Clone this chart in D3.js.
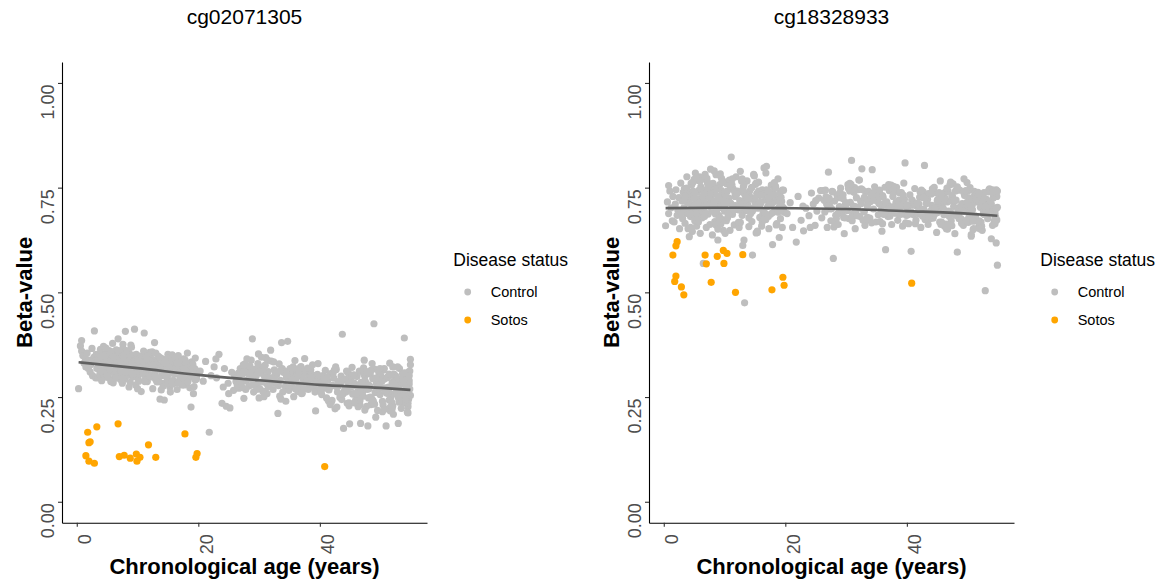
<!DOCTYPE html>
<html>
<head>
<meta charset="utf-8">
<script src="https://cdn.jsdelivr.net/npm/d3@7"></script>
<style>
  body { margin: 0; background: #fff; }
  text { font-family: "Liberation Sans", Arial, Helvetica, sans-serif; }
</style>
</head>
<body>
<svg id="chart" width="1168" height="588"></svg>
<script>
// Probe names, legend entries and axis ticks
const probeNames = ["cg02071305", "cg18328933"];
const statusLabels = ["Control", "Sotos"];
const statusColors = ["#BEBEBE", "#FFA500"];
const betaTicks = [0, 0.25, 0.5, 0.75, 1];
const ageTicks = [0, 20, 40];

// Control samples: age (years) and beta-values at the two CpG probes
const controlAge = [
  0.3,0.6,0.8,0.8,1.0,1.2,1.4,1.5,1.7,1.9,
  2.0,2.2,2.3,2.5,2.6,2.8,2.9,3.0,3.1,3.2,
  3.3,3.4,3.5,3.6,3.7,3.8,3.9,4.0,4.1,4.2,
  4.3,4.4,4.5,4.6,4.7,4.8,4.9,5.0,5.1,5.2,
  5.3,5.4,5.5,5.6,5.7,5.8,5.9,6.0,6.1,6.2,
  6.3,6.4,6.5,6.6,6.7,6.8,6.9,7.0,7.1,7.2,
  7.3,7.4,7.5,7.6,7.7,7.8,7.9,8.0,8.1,8.2,
  8.3,8.4,8.5,8.6,8.7,8.8,8.9,9.0,9.1,9.2,
  9.3,9.4,9.5,9.6,9.7,9.8,9.9,3.5,4.5,5.5,
  6.5,7.5,8.5,9.5,4.2,5.8,6.2,7.1,8.6,9.0,
  3.8,4.9,5.2,6.9,7.7,8.3,9.4,5.0,6.0,8.0,
  10.0,10.1,10.3,10.4,10.6,10.7,10.9,11.0,11.1,11.3,
  11.4,11.6,11.7,11.9,12.0,12.2,12.3,12.5,12.6,12.8,
  12.9,13.1,13.2,13.4,13.5,13.7,13.8,14.0,14.1,14.3,
  14.4,14.6,14.7,14.9,15.0,15.2,15.3,15.5,15.6,15.8,
  15.9,16.1,16.2,16.4,16.5,16.7,16.8,17.0,17.1,17.3,
  17.4,17.6,17.7,17.9,18.0,18.2,18.3,18.5,18.6,18.8,
  18.9,19.1,19.2,19.4,19.5,19.7,19.8,10.2,10.8,11.5,
  12.1,12.7,13.3,13.9,14.5,15.1,15.7,16.3,16.9,17.5,
  10.5,11.2,11.8,12.4,13.0,13.6,14.2,14.8,15.4,16.0,
  16.6,17.2,17.8,18.4,19.0,19.6,10.0,11.0,13.0,15.0,
  20.3,20.8,21.2,21.8,22.1,22.6,23.0,23.4,23.9,24.3,
  24.6,24.9,25.2,25.5,25.8,26.0,26.2,22.9,24.1,25.0,
  26.5,26.7,26.9,27.1,27.3,27.5,27.7,27.9,28.1,28.3,
  28.5,28.7,28.9,29.1,29.3,29.5,29.7,29.9,30.1,30.3,
  30.5,30.7,30.9,31.1,31.3,31.5,31.7,31.9,32.1,32.3,
  32.5,32.7,32.9,33.1,33.3,33.5,33.7,33.9,34.1,34.3,
  34.5,34.7,34.9,35.1,35.3,35.5,35.7,35.9,36.1,36.3,
  36.5,36.7,36.9,37.1,37.3,37.5,37.7,37.9,38.1,38.3,
  38.5,38.7,38.9,39.1,39.3,39.5,39.7,39.9,26.6,27.6,
  28.6,29.6,30.6,31.6,32.6,33.6,34.6,35.6,36.6,37.6,
  38.6,39.6,27.0,28.0,29.0,30.0,31.0,32.0,33.0,34.0,
  35.0,36.0,37.0,38.0,39.0,27.4,29.4,31.4,33.4,35.4,
  40.1,40.3,40.5,40.7,40.9,41.1,41.3,41.5,41.7,41.9,
  42.1,42.3,42.5,42.7,42.9,43.1,43.3,43.5,43.7,43.9,
  44.1,44.3,44.5,44.7,44.9,45.1,45.3,45.5,45.7,45.9,
  46.1,46.3,46.5,46.7,46.9,47.1,47.3,47.5,47.7,47.9,
  48.1,48.3,48.5,48.7,48.9,49.1,49.3,49.5,49.7,49.9,
  50.1,50.3,50.5,50.7,50.9,51.1,51.3,51.5,51.7,51.9,
  52.1,52.3,52.5,52.7,52.9,53.1,53.3,53.5,53.7,53.9,
  54.1,54.3,54.5,54.7,54.9,42.0,43.0,44.0,45.0,46.0,
  47.0,48.0,49.0,50.0,51.0,52.0,53.0,54.0,54.8,44.6,
  45.6,46.6,47.6,48.6,49.6,50.6,51.6,52.6,53.6,54.6,
  43.4,44.4,45.4,46.4,47.4,48.4,49.4,50.4,51.4,52.4,
  53.4,54.4,54.9,45.2,46.2,47.2,48.2,49.2,50.2,51.2,
  52.2,53.2,54.2,54.7,41.6,42.6,43.6,44.8,53.8,54.5,
  3.4,4.0,4.6,5.1,5.7,6.3,6.8,7.4,7.9,8.5,
  9.1,9.6,10.2,10.7,11.3,11.9,12.4,13.0,13.5,14.1,
  14.6,15.2,15.8,16.3,16.9,17.4,18.0,18.6,19.1,19.7,
  3.9,4.4,5.0,5.6,6.1,6.7,7.2,7.8,8.4,8.9,
  9.5,10.0,10.6,11.2,11.7,12.3,12.8,13.4,14.0,14.5,
  15.1,15.6,16.2,16.8,17.3,17.9,18.4,19.0,19.5,4.8,
  5.3,5.9,6.4,7.0,7.6,8.1,8.7,9.2,9.8,10.4,
  10.9,11.5,12.0,12.6,13.2,13.7,14.3,14.8,15.4,16.0,
  16.5,17.1,17.6,18.2,18.8,19.3,3.6,4.3,5.4,6.6,
  7.3,8.2,9.3,10.1,11.4,12.9,14.4,16.6,18.1,6.0,
  26.8,27.8,28.4,29.2,30.2,30.8,31.8,32.4,33.2,34.2,
  34.8,35.8,36.4,37.2,38.2,38.8,39.8,27.2,28.8,30.4,
  31.2,32.8,34.4,35.2,36.8,37.4,38.4,39.4,26.4,29.8,
  30.6,31.4,32.2,33.8,35.4,36.2,37.8,39.2,28.2,33.0,
  27.5,29.0,30.0,31.0,32.5,34.5,36.0,37.5,38.5,39.5,
  26.9,28.5,29.5,31.5,33.5,35.5,36.5,37.0,38.0,40.0,
  40.2,40.8,41.4,42.2,42.8,43.2,43.8,44.2,44.8,45.4,
  45.8,46.4,46.8,47.4,47.8,48.4,48.8,49.4,49.8,50.4,
  50.8,51.4,51.8,52.4,52.8,53.4,53.8,54.4,54.8,41.0,
  42.4,43.6,45.0,46.0,47.2,48.6,49.6,50.6,51.6,52.6,
  53.6,54.6,54.2,53.0,52.0,51.0,50.0,49.0,48.0,47.0,
  46.6,45.6,44.6,43.0,42.0,41.2,54.9,54.5,53.3,52.3,
  51.3,50.3,49.3,48.3,47.3,46.3,45.3,44.3,54.7,54.1,
  53.7,52.7,51.7,50.7,49.7,48.7,47.7,46.7,45.7,44.7,
  43.7,42.7,41.7,40.7,54.3,53.9,52.9,51.9,50.9,49.9
];

const controlBetaA = [
  .270,.372,.385,.360,.349,.331,.343,.322,.355,.318,
  .338,.310,.327,.366,.301,.345,.408,.335,.296,.352,
  .318,.341,.296,.352,.327,.305,.364,.333,.289,.347,
  .312,.371,.326,.298,.339,.355,.316,.302,.344,.329,
  .361,.308,.335,.287,.349,.322,.378,.313,.340,.296,
  .327,.356,.304,.343,.318,.389,.331,.299,.352,.336,
  .310,.345,.283,.366,.324,.337,.293,.407,.315,.348,
  .329,.302,.358,.321,.340,.285,.374,.312,.333,.350,
  .306,.344,.412,.318,.279,.352,.326,.338,.301,.321,
  .363,.291,.347,.330,.316,.356,.308,.342,.274,.369,
  .335,.309,.351,.325,.298,.343,.317,.330,.284,.357,
  .322,.294,.347,.308,.263,.336,.315,.351,.403,.301,
  .328,.287,.343,.312,.357,.298,.325,.270,.339,.380,
  .306,.332,.289,.348,.318,.245,.327,.301,.341,.283,
  .243,.319,.336,.295,.352,.309,.274,.328,.314,.345,
  .290,.337,.305,.322,.268,.349,.311,.296,.333,.317,
  .302,.341,.279,.326,.309,.355,.288,.320,.297,.226,
  .334,.306,.258,.318,.343,.294,.312,.288,.329,.316,
  .346,.298,.323,.267,.335,.304,.351,.285,.327,.310,
  .314,.339,.300,.358,.292,.321,.276,.331,.344,.306,
  .319,.287,.339,.303,.325,.293,.270,.360,.315,.281,
  .312,.288,.335,.166,.301,.322,.296,.352,.235,.318,
  .228,.283,.224,.309,.266,.300,.287,.341,.274,.258,
  .296,.271,.318,.284,.305,.247,.329,.289,.312,.276,
  .301,.338,.389,.262,.294,.317,.281,.353,.270,.307,
  .286,.322,.299,.344,.258,.311,.279,.362,.293,.268,
  .315,.283,.304,.211,.329,.290,.380,.262,.309,.275,
  .297,.383,.266,.318,.284,.305,.251,.337,.288,.313,
  .274,.300,.323,.259,.291,.342,.280,.306,.268,.297,
  .315,.283,.302,.271,.217,.294,.330,.276,.307,.320,
  .293,.268,.314,.287,.301,.245,.296,.322,.279,.311,
  .289,.304,.276,.341,.298,.318,.263,.336,.285,.309,
  .272,.295,.316,.284,.299,.327,.312,.290,.252,.303,
  .283,.256,.301,.271,.314,.248,.289,.267,.305,.239,
  .278,.295,.222,.316,.262,.284,.249,.300,.400,.175,
  .268,.291,.235,.307,.186,.274,.321,.258,.283,.243,
  .299,.266,.312,.187,.276,.252,.338,.287,.228,.181,
  .270,.305,.247,.294,.425,.261,.283,.218,.309,.256,
  .289,.240,.316,.272,.181,.297,.263,.331,.251,.285,
  .209,.274,.300,.262,.187,.318,.245,.281,.236,.391,
  .268,.303,.227,.289,.254,.307,.276,.262,.294,.236,
  .281,.248,.317,.273,.296,.229,.285,.259,.312,.266,
  .302,.241,.279,.330,.264,.293,.217,.271,.306,.245,
  .286,.312,.257,.275,.299,.232,.268,.314,.243,.290,
  .223,.278,.340,.297,.250,.320,.276,.202,.288,.260,
  .305,.266,.247,.281,.273,.322,.288,.229,.298,.212,
  .334,.312,.351,.297,.340,.323,.361,.306,.344,.318,
  .329,.301,.347,.316,.292,.338,.310,.355,.287,.324,
  .303,.342,.281,.319,.336,.296,.313,.272,.328,.300,
  .348,.326,.303,.359,.315,.337,.292,.350,.321,.309,
  .343,.306,.332,.287,.349,.316,.328,.296,.311,.337,
  .322,.288,.345,.307,.279,.334,.300,.318,.291,.367,
  .320,.346,.295,.333,.376,.310,.352,.298,.339,.319,
  .306,.341,.299,.327,.286,.344,.310,.323,.262,.308,
  .331,.298,.316,.286,.309,.275,.327,.349,.315,.340,
  .329,.361,.304,.337,.318,.299,.332,.284,.306,.346,
  .303,.268,.321,.285,.309,.251,.296,.334,.277,.312,
  .292,.318,.263,.305,.281,.327,.294,.273,.316,.345,
  .283,.307,.240,.299,.321,.270,.311,.286,.279,.330,
  .264,.338,.295,.318,.274,.300,.289,.262,.306,.283,
  .311,.279,.248,.326,.293,.305,.269,.314,.297,.281,
  .288,.324,.300,.275,.313,.292,.308,.258,.319,.271,
  .262,.295,.241,.308,.226,.281,.257,.292,.236,.276,
  .301,.248,.285,.219,.268,.314,.240,.279,.296,.231,
  .264,.305,.238,.277,.322,.251,.293,.214,.269,.287,
  .315,.244,.282,.258,.305,.239,.274,.318,.226,.297,
  .253,.310,.282,.238,.322,.259,.302,.233,.279,.261,
  .231,.303,.268,.287,.242,.298,.327,.235,.293,.258,
  .274,.215,.296,.250,.309,.227,.284,.262,.301,.244,
  .289,.263,.302,.221,.276,.243,.311,.268,.236,.284,
  .257,.275,.232,.294,.271,.308,.249,.222,.267,.318
];

const controlBetaB = [
  .659,.716,.755,.688,.742,.702,.671,.729,.668,.711,
  .745,.684,.697,.726,.652,.761,.690,.718,.676,.739,
  .702,.748,.665,.731,.689,.776,.714,.652,.738,.697,
  .723,.681,.760,.709,.645,.742,.694,.728,.671,.785,
  .716,.658,.739,.699,.767,.685,.724,.641,.752,.707,
  .678,.745,.569,.719,.693,.771,.732,.655,.708,.761,
  .687,.741,.712,.662,.794,.726,.699,.637,.753,.718,
  .735,.669,.704,.781,.691,.748,.625,.722,.683,.757,
  .711,.676,.743,.702,.766,.648,.729,.694,.737,.672,
  .721,.756,.687,.714,.633,.744,.698,.772,.661,.730,
  .749,.706,.682,.737,.715,.790,.664,.726,.701,.743,
  .704,.738,.671,.759,.692,.725,.648,.713,.823,.686,
  .747,.661,.729,.776,.698,.740,.667,.719,.789,.706,
  .684,.752,.625,.731,.695,.766,.710,.657,.741,.688,
  .723,.589,.699,.778,.715,.642,.736,.701,.763,.679,
  .711,.658,.745,.693,.797,.720,.674,.739,.705,.652,
  .730,.687,.756,.614,.716,.749,.697,.661,.724,.771,
  .702,.738,.676,.717,.655,.744,.691,.729,.768,.707,
  .742,.696,.475,.733,.669,.758,.714,.686,.801,.722,
  .678,.753,.707,.664,.739,.697,.728,.782,.646,.715,
  .736,.681,.712,.750,.631,.703,.694,.747,.612,.725,
  .688,.714,.655,.620,.729,.672,.647,.701,.683,.737,
  .711,.660,.694,.725,.743,.678,.743,.706,.655,.719,
  .692,.728,.655,.787,.706,.671,.741,.581,.718,.684,
  .733,.662,.705,.749,.689,.724,.640,.711,.698,.757,
  .676,.715,.815,.687,.739,.652,.726,.701,.768,.681,
  .712,.745,.693,.660,.722,.706,.741,.677,.730,.793,
  .699,.752,.668,.719,.685,.735,.710,.646,.727,.694,
  .602,.716,.681,.743,.697,.662,.729,.705,.689,.751,
  .672,.720,.695,.738,.658,.711,.809,.684,.744,.700,
  .726,.679,.760,.691,.795,.714,.738,.669,.703,.747,
  .688,.722,.699,.656,.734,.710,.681,.745,.693,.717,
  .731,.664,.707,.740,.686,.719,.697,.750,.673,.712,
  .701,.664,.733,.598,.719,.685,.748,.672,.710,.693,
  .727,.655,.698,.740,.803,.681,.716,.662,.735,.694,
  .708,.677,.751,.689,.643,.722,.700,.766,.668,.713,
  .685,.739,.652,.718,.694,.757,.671,.729,.705,.640,
  .720,.596,.688,.744,.676,.712,.660,.731,.699,.762,
  .667,.725,.693,.708,.650,.741,.682,.716,.739,.671,
  .703,.658,.730,.687,.504,.722,.676,.745,.694,.711,
  .660,.727,.689,.745,.565,.711,.674,.735,.690,.719,
  .681,.742,.665,.706,.728,.652,.714,.697,.673,.738,
  .694,.716,.759,.678,.705,.634,.723,.687,.747,.701,
  .722,.683,.708,.663,.731,.695,.771,.676,.717,.648,
  .689,.732,.703,.715,.658,.691,.746,.710,.679,.724,
  .668,.701,.725,.618,.706,.682,.736,.699,.742,.680,
  .721,.688,.757,.739,.668,.703,.782,.727,.694,.749,
  .676,.762,.716,.690,.771,.733,.655,.745,.708,.726,
  .694,.761,.731,.683,.745,.712,.738,.664,.722,.701,
  .734,.655,.770,.712,.746,.681,.763,.705,.738,.651,
  .772,.710,.687,.758,.739,.697,.766,.720,.678,.751,
  .703,.742,.668,.785,.727,.690,.753,.715,.744,.763,
  .690,.776,.728,.707,.736,.760,.695,.780,.718,.741,
  .755,.697,.735,.667,.757,.726,.701,.780,.643,.732,
  .675,.743,.708,.762,.691,.727,.730,.688,.775,.736,
  .754,.716,.783,.641,.705,.771,.749,.690,.733,.766,
  .711,.740,.676,.726,.695,.758,.683,.718,.740,.666,
  .729,.697,.751,.682,.714,.738,.666,.725,.691,.748,
  .706,.672,.736,.719,.684,.756,.700,.732,.720,.678,
  .742,.701,.768,.715,.732,.686,.753,.707,.662,.727,
  .699,.738,.714,.671,.747,.720,.731,.693,.705,.761,
  .724,.686,.733,.705,.679,.744,.715,.757,.690,.709,
  .685,.721,.664,.739,.698,.712,.676,.747,.703,.668,
  .726,.694,.741,.659,.718,.683,.705,.737,.672,.750,
  .697,.733,.655,.714,.686,.740,.702,.671,.729,.708,
  .744,.688,.719,.700,.763,.676,.710,.638,.735,.692,
  .715,.680,.736,.699,.727,.652,.741,.706,.684,.718,
  .749,.662,.701,.728,.687,.712,.742,.664,.708,.731,
  .676,.717,.694,.752,.660,.725,.738,.685,.700,.745,
  .712,.738,.669,.707,.743,.693,.721,.651,.730,.699,
  .681,.726,.713,.692,.740,.628,.705,.735,.670,.715
];

// Sotos patients: age (years) and beta-values at the two probes
const sotosAge = [1.5,1.8,2.0,2.0,2.2,2.9,3.3,6.8,7.0,7.8,8.8,9.8,9.9,10.4,11.8,13.0,17.8,19.6,19.8,40.8];
const sotosBetaA = [.110,.166,.141,.097,.143,.092,.179,.186,.108,.111,.104,.114,.097,.106,.136,.106,.162,.106,.115,.084];
const sotosBetaB = [.589,.526,.611,.539,.621,.513,.494,.589,.568,.524,.586,.600,.569,.593,.500,.590,.506,.536,.517,.522];

// Smoothed trend of the control group
const fitAge = [0.3, 10, 20, 30, 40, 50, 54.9];
const fitBetaA = [0.333, 0.319, 0.303, 0.290, 0.279, 0.272, 0.267];
const fitBetaB = [0.701, 0.702, 0.701, 0.699, 0.694, 0.688, 0.683];

const svg = d3.select("#chart");
svg.append("rect").attr("width", 1168).attr("height", 588).attr("fill", "#fff");

const plot = { left: 62, right: 427, top: 62, bottom: 522.7 };
const panelStep = 587;

const allAges = controlAge.concat(sotosAge);
const [ageMin, ageMax] = d3.extent(allAges);
const agePad = (ageMax - ageMin) * 0.05;

function drawPanel(i, ctrlBeta, sotosBeta, fitBeta) {
  const g = svg.append("g").attr("transform", `translate(${i * panelStep},0)`);

  const x = d3.scaleLinear()
    .domain([ageMin - agePad, ageMax + agePad])
    .range([plot.left, plot.right]);
  const y = d3.scaleLinear()
    .domain([-0.05, 1.05])
    .range([plot.bottom, plot.top]);

  const n = Math.min(controlAge.length, ctrlBeta.length);
  const controls = d3.range(n).map(k => ({ age: controlAge[k], beta: ctrlBeta[k] }));
  const sotos = sotosAge.map((a, k) => ({ age: a, beta: sotosBeta[k] }));
  const fit = fitAge.map((a, k) => ({ age: a, beta: fitBeta[k] }));

  g.append("g").selectAll("circle").data(controls).join("circle")
    .attr("cx", d => x(d.age)).attr("cy", d => y(d.beta))
    .attr("r", 3.6).attr("fill", statusColors[0]);

  g.append("g").selectAll("circle").data(sotos).join("circle")
    .attr("cx", d => x(d.age)).attr("cy", d => y(d.beta))
    .attr("r", 3.6).attr("fill", statusColors[1]);

  g.append("path").datum(fit)
    .attr("fill", "none").attr("stroke", "#616161").attr("stroke-width", 2.6)
    .attr("d", d3.line().x(d => x(d.age)).y(d => y(d.beta)).curve(d3.curveMonotoneX));

  // Axes
  const yAxis = g.append("g").attr("transform", `translate(${plot.left},0)`)
    .call(d3.axisLeft(y).tickValues(betaTicks).tickFormat(d3.format(".2f")).tickSize(4).tickSizeOuter(0));
  const xAxis = g.append("g").attr("transform", `translate(0,${plot.bottom})`)
    .call(d3.axisBottom(x).tickValues(ageTicks).tickFormat(d3.format("d")).tickSize(4).tickSizeOuter(0));

  [yAxis, xAxis].forEach(ax => {
    ax.select(".domain").attr("stroke", "#000").attr("stroke-width", 1.1);
    ax.selectAll(".tick line").attr("stroke", "#333").attr("stroke-width", 1.1);
    ax.selectAll(".tick text")
      .attr("fill", "#4D4D4D").attr("font-size", 18)
      .attr("font-family", "Liberation Sans, Arial, sans-serif")
      .attr("text-anchor", "end").attr("dy", 0)
      .attr("transform", "rotate(-90)");
  });
  yAxis.selectAll(".tick text").attr("x", -1).attr("y", -8.5);
  xAxis.selectAll(".tick text").attr("x", -11.5).attr("y", 14);

  const cx = (plot.left + plot.right) / 2;

  g.append("text").attr("x", cx).attr("y", 24)
    .attr("text-anchor", "middle").attr("font-size", 21).attr("fill", "#000")
    .text(probeNames[i]);

  g.append("text").attr("x", cx).attr("y", 574)
    .attr("text-anchor", "middle").attr("font-size", 22).attr("font-weight", "bold")
    .text("Chronological age (years)");

  g.append("text")
    .attr("transform", `translate(31.5,${(plot.top + plot.bottom) / 2}) rotate(-90)`)
    .attr("text-anchor", "middle").attr("font-size", 22).attr("font-weight", "bold")
    .text("Beta-value");

  // Legend
  const lg = g.append("g");
  lg.append("text").attr("x", 453.3).attr("y", 266)
    .attr("font-size", 17.5).text("Disease status");
  statusLabels.forEach((lab, k) => {
    lg.append("circle").attr("cx", 467.7).attr("cy", 292 + k * 28)
      .attr("r", 3.4).attr("fill", statusColors[k]);
    lg.append("text").attr("x", 490.7).attr("y", 297.3 + k * 28)
      .attr("font-size", 14.5).text(lab);
  });
}

drawPanel(0, controlBetaA, sotosBetaA, fitBetaA);
drawPanel(1, controlBetaB, sotosBetaB, fitBetaB);
</script>
</body>
</html>
